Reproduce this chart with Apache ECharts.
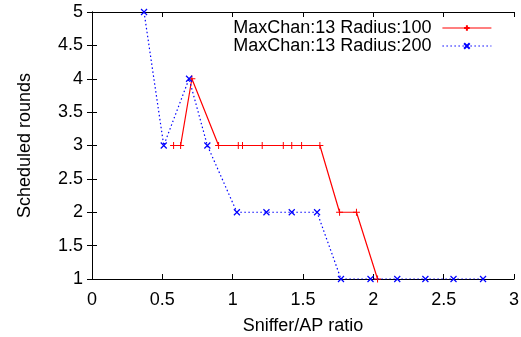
<!DOCTYPE html>
<html>
<head>
<meta charset="utf-8">
<script src="https://cdn.jsdelivr.net/npm/echarts@6/dist/echarts.min.js"></script>
<style>
  html, body { margin: 0; padding: 0; background: #fff; }
  #chart { width: 521px; height: 337px; }
</style>
</head>
<body>
<div id="chart"></div>
<script>
// values
var seriesNames = ['MaxChan:13 Radius:100', 'MaxChan:13 Radius:200'];
var r100X = [0.58, 0.63, 0.71, 0.90, 1.04, 1.07, 1.21, 1.36, 1.42, 1.49, 1.62, 1.76, 1.88, 2.03];
var r100Y = [3, 3, 4, 3, 3, 3, 3, 3, 3, 3, 3, 2, 2, 1];
var r200X = [0.37, 0.51, 0.69, 0.82, 1.03, 1.24, 1.42, 1.60, 1.77, 1.98, 2.17, 2.37, 2.57, 2.78];
var r200Y = [5, 3, 4, 3, 2, 2, 2, 2, 1, 1, 1, 1, 1, 1];

var PLUS = 'path://M0,5L10,5M5,0L5,10';
var CROSS = 'path://M0,0L10,10M10,0L0,10';

function pairs(xs, ys) {
    var out = [];
    for (var i = 0; i < xs.length; i++) out.push([xs[i], ys[i]]);
    return out;
}

var font = 'Liberation Sans, Arial, sans-serif';
var FS = 18;
var chart = echarts.init(document.getElementById('chart'));

// ticks go inward on all four sides, like gnuplot
var tickIn = { show: true, inside: true, length: 5, lineStyle: { color: '#000' } };
var lineBlack = { show: true, lineStyle: { color: '#000', width: 1 } };

chart.setOption({
    animation: false,
    textStyle: { fontFamily: font },
    grid: { left: 92, right: 7, top: 12, bottom: 58, containLabel: false, outerBoundsMode: 'none' },
    legend: {
        orient: 'vertical',
        right: 24,
        top: 14,
        align: 'right',
        itemWidth: 49,
        itemHeight: 7,
        itemGap: 0,
        lineStyle: { width: 1.2 },
        textStyle: { fontSize: FS, lineHeight: 18, color: '#000', fontFamily: font, padding: [0, 6, 0, 0] },
        data: seriesNames
    },
    xAxis: [{
        type: 'value', min: 0, max: 3, interval: 0.5,
        name: 'Sniffer/AP ratio', nameLocation: 'middle', nameGap: 38,
        nameTextStyle: { fontSize: FS, color: '#000' },
        axisLine: lineBlack, axisTick: tickIn, splitLine: { show: false },
        axisLabel: { fontSize: FS, color: '#000', margin: 12 }
    }, {
        type: 'value', min: 0, max: 3, interval: 0.5, position: 'top',
        axisLine: lineBlack, axisTick: tickIn, splitLine: { show: false },
        axisLabel: { show: false }
    }],
    yAxis: [{
        type: 'value', min: 1, max: 5, interval: 0.5,
        name: 'Scheduled rounds', nameLocation: 'middle', nameGap: 58,
        nameTextStyle: { fontSize: FS, color: '#000' },
        axisLine: lineBlack, axisTick: tickIn, splitLine: { show: false },
        axisLabel: { fontSize: FS, color: '#000', margin: 9 }
    }, {
        type: 'value', min: 1, max: 5, interval: 0.5, position: 'right',
        axisLine: lineBlack, axisTick: tickIn, splitLine: { show: false },
        axisLabel: { show: false }
    }],
    series: [{
        name: seriesNames[0],
        type: 'line',
        data: pairs(r100X, r100Y),
        symbol: PLUS,
        symbolSize: 7,
        lineStyle: { color: '#ff0000', width: 1.2, type: 'solid' },
        itemStyle: { color: '#ff0000', borderColor: '#ff0000', borderWidth: 1 },
        z: 2
    }, {
        name: seriesNames[1],
        type: 'line',
        data: pairs(r200X, r200Y),
        symbol: CROSS,
        symbolSize: 6,
        lineStyle: { color: '#0000ff', width: 1.2, type: [1.5, 2.5] },
        itemStyle: { color: '#0000ff', borderColor: '#0000ff', borderWidth: 1.2 },
        z: 3
    }]
});
</script>
</body>
</html>
